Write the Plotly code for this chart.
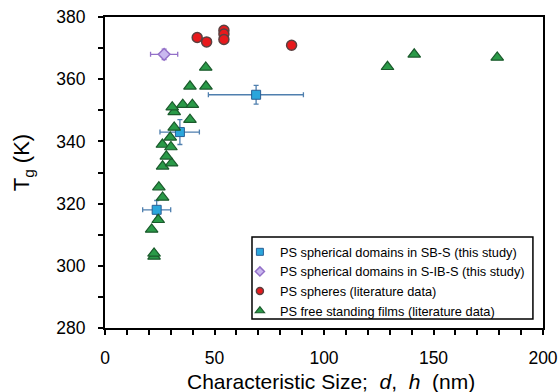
import plotly.graph_objects as go

# PS spherical domains in SB-S (this study)
sbs_x = [23.6, 34.2, 69.0]
sbs_y = [318, 343, 355]
sbs_xerr_plus = [6.4, 8.9, 21.6]
sbs_xerr_minus = [6.4, 9.1, 21.8]
sbs_yerr = [3, 4, 3]

# PS spherical domains in S-IB-S (this study)
sibs_x = [27.0]
sibs_y = [368]
sibs_xerr = [6.2]
sibs_yerr = [1.7]

# PS spheres (literature data)
sph_x = [42.1, 46.4, 54.3, 54.3, 54.3, 85.2]
sph_y = [373.4, 372.0, 375.7, 374.5, 372.8, 370.9]

# PS free standing films (literature data)
film_x = [22.4, 22.4, 21.3, 24.3, 26.3, 24.6, 26.3, 30.4, 28.0, 26.2, 30.1, 29.8,
          31.6, 31.6, 30.7, 35.5, 39.9, 38.8, 38.8, 46.1, 46.0, 129.0, 141.2, 179.1]
film_y = [303.0, 304.0, 311.7, 314.8, 322.0, 325.3, 332.0, 333.0, 335.2, 339.0, 338.2, 341.3,
          344.5, 349.5, 351.0, 351.8, 351.8, 347.0, 357.7, 357.7, 363.8, 364.0, 368.0, 367.0]

names = ["PS spherical domains in SB-S (this study)",
         "PS spherical domains in S-IB-S (this study)",
         "PS spheres (literature data)",
         "PS free standing films (literature data)"]

x_title = "Characteristic Size;\u00a0\u00a0<i>d</i>,\u00a0\u00a0<i>h</i>\u00a0\u00a0(nm)"
y_title = "T<sub>g</sub> (K)"

FONT = "Arial, Liberation Sans, sans-serif"

styles = [
    dict(symbol="square", color="#2ba6dc", line=dict(color="#2a5f95", width=1)),
    dict(symbol="diamond", color="#c9b8ef", line=dict(color="#9370c8", width=1.5)),
    dict(symbol="circle", color="#e8191c", line=dict(color="#5b4040", width=1.5)),
    dict(symbol="triangle-up", color="#2a9a48", line=dict(color="#1b5a2c", width=1.2)),
]
sizes = [9, 9, 10, 11]
legend_sizes = [7, 7, 7, 8]

fig = go.Figure()

fig.add_trace(go.Scatter(
    x=sbs_x, y=sbs_y, mode="markers", name=names[0], showlegend=False,
    marker=dict(size=sizes[0], **styles[0]),
    error_x=dict(type="data", symmetric=False, array=sbs_xerr_plus,
                 arrayminus=sbs_xerr_minus, color="#4f7fae", thickness=1.3, width=2.5),
    error_y=dict(type="data", array=sbs_yerr, color="#4f7fae", thickness=1.3, width=2.5),
))

fig.add_trace(go.Scatter(
    x=sibs_x, y=sibs_y, mode="markers", name=names[1], showlegend=False,
    marker=dict(size=sizes[1], **styles[1]),
    error_x=dict(type="data", array=sibs_xerr, color="#9370c8", thickness=1.3, width=2.5),
    error_y=dict(type="data", array=sibs_yerr, color="#9370c8", thickness=1.3, width=2.5),
))

fig.add_trace(go.Scatter(
    x=sph_x, y=sph_y, mode="markers", name=names[2], showlegend=False,
    marker=dict(size=sizes[2], **styles[2]),
))

fig.add_trace(go.Scatter(
    x=film_x, y=film_y, mode="markers", name=names[3], showlegend=False,
    marker=dict(size=sizes[3], **styles[3]),
))

# legend entries (smaller symbols, as in the reference legend)
for nm, st, sz in zip(names, styles, legend_sizes):
    fig.add_trace(go.Scatter(x=[None], y=[None], mode="markers", name=nm,
                             marker=dict(size=sz, **st), showlegend=True))

axis_common = dict(
    showline=True, linecolor="black", linewidth=2, mirror=True,
    ticks="outside", ticklen=5, tickwidth=1.5, tickcolor="black",
    showgrid=False, zeroline=False, automargin=False,
    tickfont=dict(family=FONT, size=17.5, color="black"),
)

fig.update_xaxes(
    range=[0, 200], dtick=50, tick0=0,
    minor=dict(dtick=10, ticks="outside", ticklen=5, tickwidth=1.5, tickcolor="black"),
    ticklabelstandoff=8,
    **axis_common,
)
fig.update_yaxes(
    range=[280, 380], dtick=20, tick0=280,
    minor=dict(dtick=10, ticks="outside", ticklen=5, tickwidth=1.5, tickcolor="black"),
    ticklabelstandoff=9,
    **axis_common,
)

# axis titles placed as annotations for precise positioning
fig.add_annotation(text=x_title, xref="paper", yref="paper", x=0.517, y=-0.172,
                   xanchor="center", yanchor="middle", showarrow=False,
                   font=dict(family=FONT, size=21, color="black"))
fig.add_annotation(text=y_title, xref="paper", yref="paper", x=-0.187, y=0.53,
                   xanchor="center", yanchor="middle", showarrow=False, textangle=-90,
                   font=dict(family=FONT, size=22, color="black"))

# legend frame (paper coordinates)
fig.add_shape(type="rect", xref="paper", yref="paper",
              x0=0.3356, x1=0.977, y0=0.029, y1=0.2926,
              line=dict(color="black", width=1.5), fillcolor="white", layer="above")

fig.update_layout(
    width=559, height=392,
    margin=dict(l=105, r=16, t=17, b=64),
    paper_bgcolor="white", plot_bgcolor="white",
    font=dict(family=FONT, color="black"),
    legend=dict(
        x=0.308, y=0.2926, xanchor="left", yanchor="top",
        bgcolor="rgba(0,0,0,0)", borderwidth=0,
        font=dict(family=FONT, size=12.8, color="black"),
        tracegroupgap=0, itemwidth=30, itemsizing="trace",
    ),
    showlegend=True,
)

fig.write_html("out.html")
